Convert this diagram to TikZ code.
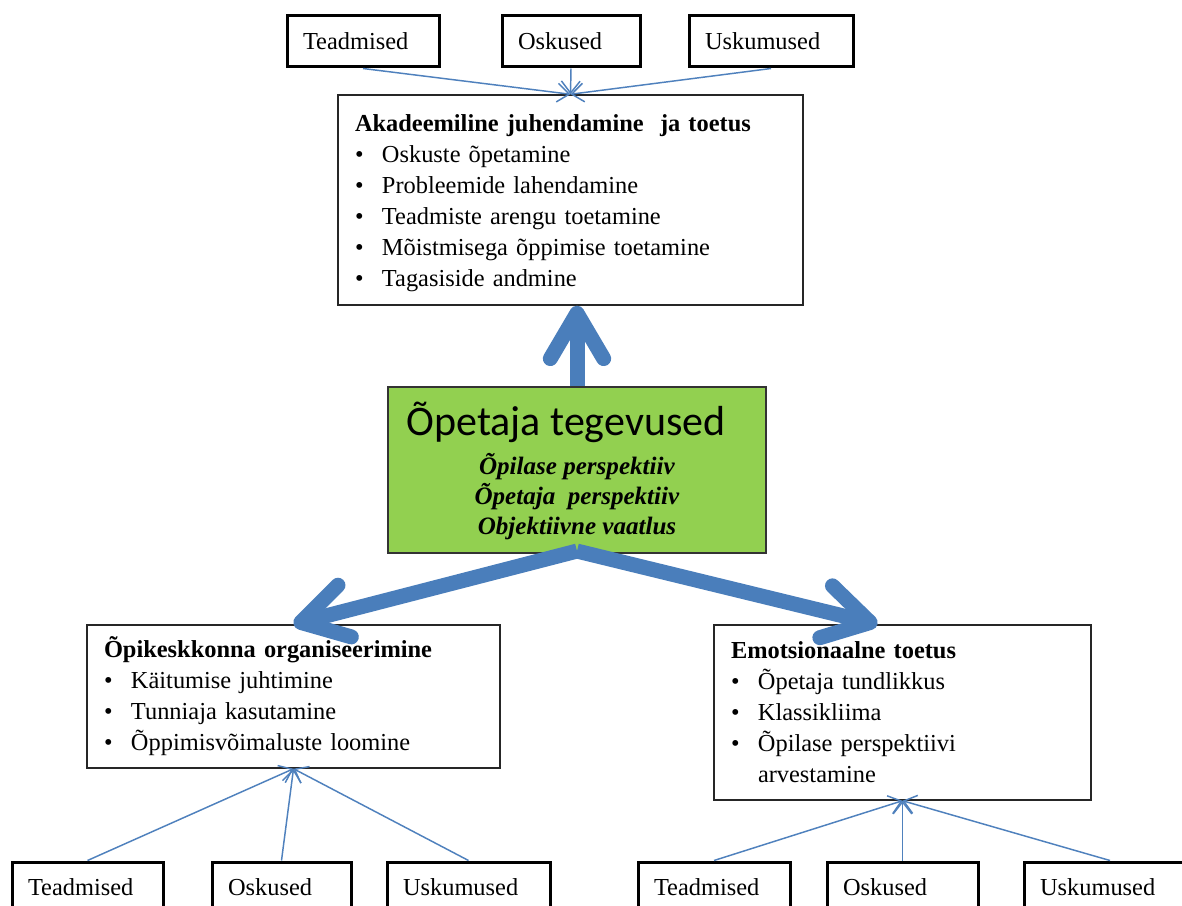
\documentclass[tikz,border=0pt]{standalone}
\usepackage{fontspec}
\setmainfont{Liberation Serif}
\newfontfamily\calibri{Carlito}
\usetikzlibrary{arrows.meta,calc}
\definecolor{arrowblue}{RGB}{74,126,187}
\definecolor{lineblue}{RGB}{79,129,189}
\definecolor{boxgreen}{RGB}{146,208,80}
\newcommand{\bitem}[1]{\makebox[20.25pt][l]{\textbullet}#1}
\begin{document}
\begin{tikzpicture}[x=0.75pt,y=-0.75pt,
  every node/.style={font=\fontsize{18.3}{23.25}\selectfont},
  smallbox/.style={draw=black,line width=2.25pt,fill=white,inner xsep=12pt,inner ysep=0pt,minimum height=38.25pt,align=left},
  bigbox/.style={draw=black!85,line width=1.1pt,fill=white,inner xsep=12.75pt,inner ysep=0pt,align=left},
  greenbox/.style={draw=black!80,line width=1.1pt,fill=boxgreen,inner sep=0pt,align=center,
    font=\fontsize{18.8}{22.5}\selectfont},
  feed/.style={draw=lineblue,line width=1.1pt,-{Straight Barb[length=9pt,width=14pt]}},
  bigarrow/.style={draw=arrowblue,line width=11.25pt,-{Straight Barb[round,length=34pt,width=40pt]}}
]
\useasboundingbox (0,0) rectangle (1182,906);
\fill[white] (0,0) rectangle (1182,906);
\clip (0,0) rectangle (1182,906);

% top small boxes
\node[smallbox,text width=90pt] (tT) at (363,41.5) {Teadmised};
\node[smallbox,text width=79.5pt] (tO) at (571,41.5) {Oskused};
\node[smallbox,text width=99pt] (tU) at (771,41.5) {Uskumused};

% academic box
\node[bigbox,text width=323.25pt,minimum height=157.5pt] (acad) at (570.5,200) {%
\rule{0pt}{18pt}\textbf{Akadeemiline juhendamine\ \ ja toetus}\\
\bitem{Oskuste õpetamine}\\
\bitem{Probleemide lahendamine}\\
\bitem{Teadmiste arengu toetamine}\\
\bitem{Mõistmisega õppimise toetamine}\\
\bitem{Tagasiside andmine}};

% green box
\node[greenbox,minimum width=283.5pt,minimum height=124.5pt] (green) at (577,470) {%
{\calibri\fontsize{31.5}{36}\selectfont\rule{0pt}{31pt}Õpetaja tegevused\hspace*{16.5pt}}\\[6.75pt]
\textbf{\textit{Õpilase perspektiiv}}\\
\textbf{\textit{Õpetaja\ \ perspektiiv}}\\
\textbf{\textit{Objektiivne vaatlus}}\rule[-8pt]{0pt}{1pt}};

% left box
\node[bigbox,text width=284.25pt,minimum height=107.25pt] (left) at (293.5,696.5) {%
\rule{0pt}{15pt}\textbf{Õpikeskkonna organiseerimine}\\
\bitem{Käitumise juhtimine}\\
\bitem{Tunniaja kasutamine}\\
\bitem{Õppimisvõimaluste loomine}};

% right box
\node[bigbox,text width=257.25pt,minimum height=131.25pt] (right) at (902.5,712.5) {%
\textbf{Emotsionaalne toetus}\\
\bitem{Õpetaja tundlikkus}\\
\bitem{Klassikliima}\\
\bitem{Õpilase perspektiivi}\\
\hspace*{20.25pt}arvestamine};

% bottom small boxes
\node[smallbox,text width=89.25pt] (lT) at (87.5,887.5) {Teadmised};
\node[smallbox,text width=80.25pt] (lO) at (281.5,887.5) {Oskused};
\node[smallbox,text width=98.25pt] (lU) at (468.5,887.5) {Uskumused};
\node[smallbox,text width=90pt] (rT) at (714,887.5) {Teadmised};
\node[smallbox,text width=89.25pt] (rO) at (902.5,887.5) {Oskused};
\node[smallbox,text width=105pt] (rU) at (1110,887.5) {Uskumused};

% thin connectors
\draw[feed] (tT.south) -- (acad.north);
\draw[feed] (tO.south) -- (acad.north);
\draw[feed] (tU.south) -- (acad.north);
\draw[feed] (lT.north) -- (left.south);
\draw[feed] (lO.north) -- (left.south);
\draw[feed] (lU.north) -- (left.south);
\draw[feed] (rT.north) -- (right.south);
\draw[feed] (rO.north) -- (right.south);
\draw[feed] (rU.north) -- (right.south);

% thick arrows
\draw[bigarrow] (green.north) -- (green.north |- acad.south);
\draw[bigarrow] ([yshift=2pt]green.south) -- (left.north);
\draw[bigarrow] ([yshift=2pt]green.south) -- ($(right.north)+(-25,0)$);
\end{tikzpicture}
\end{document}
